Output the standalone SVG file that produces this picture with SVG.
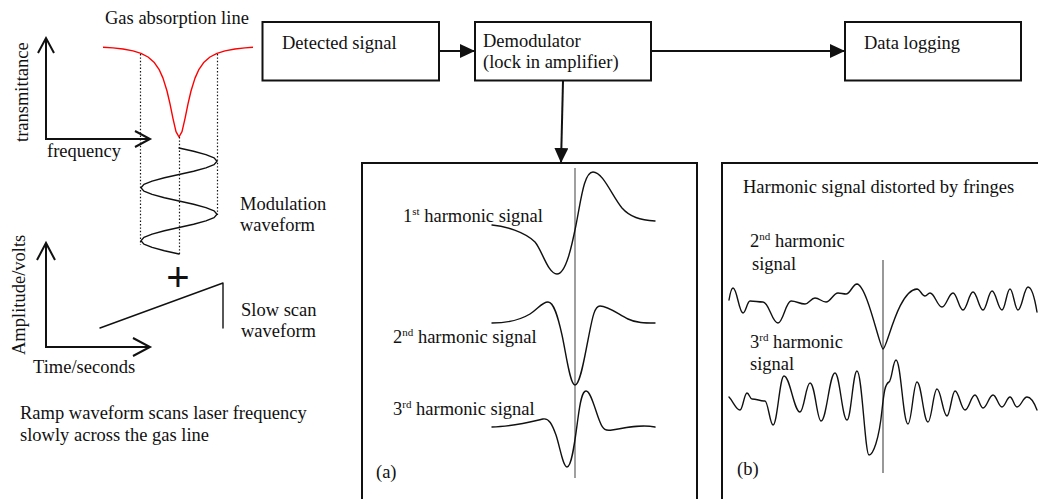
<svg xmlns="http://www.w3.org/2000/svg" width="1038" height="499" viewBox="0 0 1038 499">
  <style>
    .t { font-family: "Liberation Serif", "Times New Roman", serif; font-size: 18.5px; fill: #111; }
    .sup { font-size: 11px; }
    .box { fill: #fff; stroke: #111; stroke-width: 2; }
    .panel { fill: none; stroke: #111; stroke-width: 2; }
    .wave { fill: none; stroke: #111; stroke-width: 1.4; stroke-linejoin: round; stroke-linecap: round; }
    .axis { fill: none; stroke: #111; stroke-width: 2; stroke-linejoin: miter; }
    .dot { fill: none; stroke: #111; stroke-width: 1.2; stroke-dasharray: 1.4 2; }
    .flow { fill: none; stroke: #111; stroke-width: 2; }
  </style>
  <defs>
    <marker id="head" markerUnits="userSpaceOnUse" markerWidth="16" markerHeight="14" refX="15" refY="7" orient="auto">
      <path d="M0,0 L15,7 L0,14 z" fill="#111"/>
    </marker>
  </defs>

  <rect width="1038" height="499" fill="#fff"/>

  <!-- absorption line and modulation sketch -->
  <g id="absorption">
    <text class="t" x="105" y="24">Gas absorption line</text>
    <path d="M103,47.2 L113,47.9 L123,49 L133,50.9 L141,53.3 L148,57 L154,62.2 L159,69.3 L163,78.1 L167,91 L170,103.9 L173,118.6 L176,131.6 L179,137 L182,131.6 L185,118.6 L188,103.9 L191,91 L195,78.1 L199,69.3 L204,62.2 L210,57 L217,53.3 L225,50.9 L235,49 L245,47.9 L253,47.3" fill="none" stroke="#f00" stroke-width="1.4" stroke-linejoin="round"/>
    <line class="dot" x1="140.5" y1="54" x2="140.5" y2="245"/>
    <line class="dot" x1="179.5" y1="137" x2="179.5" y2="255"/>
    <line class="dot" x1="217.5" y1="54" x2="217.5" y2="215"/>
    <path class="axis" d="M46,38 L46,139 L150,139"/>
    <path class="axis" d="M38,53 L46,38 L54,53"/>
    <path class="axis" d="M135,131 L150,139 L135,147"/>
    <text class="t" transform="translate(28,142) rotate(-90)">transmittance</text>
    <text class="t" x="47" y="157">frequency</text>
  </g>

  <g id="modulation">
    <polyline class="wave" points="179,148 193.6,151.3 205.9,154.6 214.1,157.9 217,161.3 214.1,164.6 205.9,167.9 193.6,171.2 179,174.5 164.4,177.8 152.1,181.1 143.9,184.4 141,187.8 143.9,191.1 152.1,194.4 164.4,197.7 179,201 193.6,204.3 205.9,207.6 214.1,210.9 217,214.3 214.1,217.6 205.9,220.9 193.6,224.2 179,227.5 164.4,230.8 152.1,234.1 143.9,237.4 141,240.8 143.9,244.1 152.1,247.4 164.4,250.7 179,254"/>
    <text class="t" x="240" y="210">Modulation</text>
    <text class="t" x="240" y="231">waveform</text>
    <text x="178" y="291" text-anchor="middle" font-family="Liberation Sans, Arial, sans-serif" font-size="40" fill="#111">+</text>
  </g>

  <g id="ramp">
    <path class="wave" d="M100,328 L223,283 L223,328" stroke-width="1.8"/>
    <text class="t" x="241" y="316">Slow scan</text>
    <text class="t" x="241" y="337">waveform</text>
    <path class="axis" d="M46,243 L46,347 L150,347"/>
    <path class="axis" d="M37,260 L46,243 L55,260"/>
    <path class="axis" d="M133,338 L150,347 L133,356"/>
    <text class="t" transform="translate(25,355) rotate(-90)">Amplitude/volts</text>
    <text class="t" x="33" y="373">Time/seconds</text>
    <text class="t" x="20" y="419">Ramp waveform scans laser frequency</text>
    <text class="t" x="20" y="441">slowly across the gas line</text>
  </g>

  <!-- signal chain -->
  <g id="detected">
    <rect class="box" x="262.5" y="22" width="176.5" height="58.5"/>
    <text class="t" x="282" y="49">Detected signal</text>
  </g>
  <g id="demodulator">
    <rect class="box" x="475" y="22" width="176" height="58.5"/>
    <text class="t" x="483" y="47">Demodulator</text>
    <text class="t" x="483" y="68">(lock in amplifier)</text>
  </g>
  <g id="datalog">
    <rect class="box" x="845" y="22" width="176" height="58.5"/>
    <text class="t" x="864" y="49">Data logging</text>
  </g>

  <g id="connectors">
    <path class="flow" d="M439,51 L475,51" stroke-width="2.6" marker-end="url(#head)"/>
    <path class="flow" d="M651,51 L845,51" marker-end="url(#head)"/>
    <path class="flow" d="M563,81 L561,163" marker-end="url(#head)"/>
  </g>

  <!-- panel (a): clean harmonic signals -->
  <g id="panel-a">
    <rect class="panel" x="362" y="163" width="335" height="350"/>
    <line x1="575" y1="168" x2="575" y2="478" stroke="#888" stroke-width="1.6"/>
    <text class="t" x="403" y="222">1<tspan class="sup" dy="-7">st</tspan><tspan dy="7"> harmonic signal</tspan></text>
    <path class="wave" d="M492,225 C505,226 525,232 535,242 C542,250 548,274 557,274 C566,274 572,245 576,225 C581,200 584,172 593,172 C603,172 612,196 622,208 C630,217 640,220 655,221"/>
    <text class="t" x="393" y="343">2<tspan class="sup" dy="-7">nd</tspan><tspan dy="7"> harmonic signal</tspan></text>
    <path class="wave" d="M492,323 C505,323 520,320 530,314 C538,309 542,302 548,302 C554,302 558,317 562,335 C566,353 570,385 575,385 C580,385 584,360 588,340 C592,320 594,306 600,306 C608,306 618,314 628,319 C636,323 645,323 655,323"/>
    <text class="t" x="393" y="415">3<tspan class="sup" dy="-7">rd</tspan><tspan dy="7"> harmonic signal</tspan></text>
    <path class="wave" d="M492,427 C510,427 530,422 543,419 C549,418 552,424 556,435 C560,447 563,467 567,467 C572,467 575,440 578,418 C580,403 582,391 586,391 C591,391 595,410 600,422 C603,430 606,431 612,430 C625,428 640,424 655,427"/>
    <text class="t" x="376" y="478">(a)</text>
  </g>

  <!-- panel (b): harmonic signals with fringes -->
  <g id="panel-b">
    <rect class="panel" x="722" y="163" width="330" height="350"/>
    <text class="t" x="743" y="193">Harmonic signal distorted by fringes</text>
    <line x1="883" y1="260" x2="883" y2="473" stroke="#444" stroke-width="1.1"/>
    <text class="t" x="750" y="247">2<tspan class="sup" dy="-7">nd</tspan><tspan dy="7"> harmonic</tspan></text>
    <text class="t" x="752" y="270">signal</text>
    <path class="wave" d="M729,300 C730,294 731,288 733,288 C737,288 739,313 743,313 C745.8,313 747.2,301 750,301 C755,301 758,302 763,302 C769,302 772,323 778,323 C783,323 786,301 791,301 C796.6,301 799.4,304 805,304 C809,304 811,298 815,298 C819.4,298 821.6,302 826,302 C830.8,302 833.2,293 838,293 C841,293 843,294 846,294 C850.4,294 852.6,284 857,284 C867,285 880,349 883,349 C887,349 898,290 917,289 C920,289 922,296 925,296 C927,296 928,293 930,293 C934.8,293 937.2,307 942,307 C946.4,307 948.6,293 953,293 C957,293 959,310 963,310 C967,310 969,292 973,292 C977,292 979,310 983,310 C986.6,310 988.4,291 992,291 C996,291 998,310 1002,310 C1005.2,310 1006.8,289 1010,289 C1013.2,289 1014.8,310 1018,310 C1022,310 1024,287 1028,287 C1032,287 1035,300 1037,312"/>
    <text class="t" x="750" y="348">3<tspan class="sup" dy="-7">rd</tspan><tspan dy="7"> harmonic</tspan></text>
    <text class="t" x="750" y="370">signal</text>
    <path class="wave" d="M729,397 C733,401 736,410 740,410 C742.8,410 744.2,393 747,393 C749,393 750,399 752,399 C757,399 760,401 765,401 C768,401 770,425 773,425 C777.4,425 779.6,376 784,376 C790,376 794,412 800,412 C804,412 806,383 810,383 C815,383 817,421 821,421 C826.6,421 829.4,373 835,373 C839.8,373 842.2,420 847,420 C851,420 853,371 857,371 C862,371 865,455 869,455 C873,455 879,440 882,410 C884,392 885,384 889,382 C892,380 893,360 896,360 C901,360 903,424 908,424 C911.6,424 913.4,382 917,382 C921.4,382 923.6,422 928,422 C931.6,422 933.4,389 937,389 C941,389 943,416 947,416 C950,416 952,391 955,391 C959,391 961,410 965,410 C969,410 971,395 975,395 C978,395 980,408 983,408 C987,408 989,395 993,395 C996.6,395 998.4,407 1002,407 C1005,407 1007,397 1010,397 C1012.8,397 1014.2,407 1017,407 C1021,407 1023,397 1027,397 C1031,397 1034,402 1037,410"/>
    <text class="t" x="737" y="475">(b)</text>
  </g>
</svg>
